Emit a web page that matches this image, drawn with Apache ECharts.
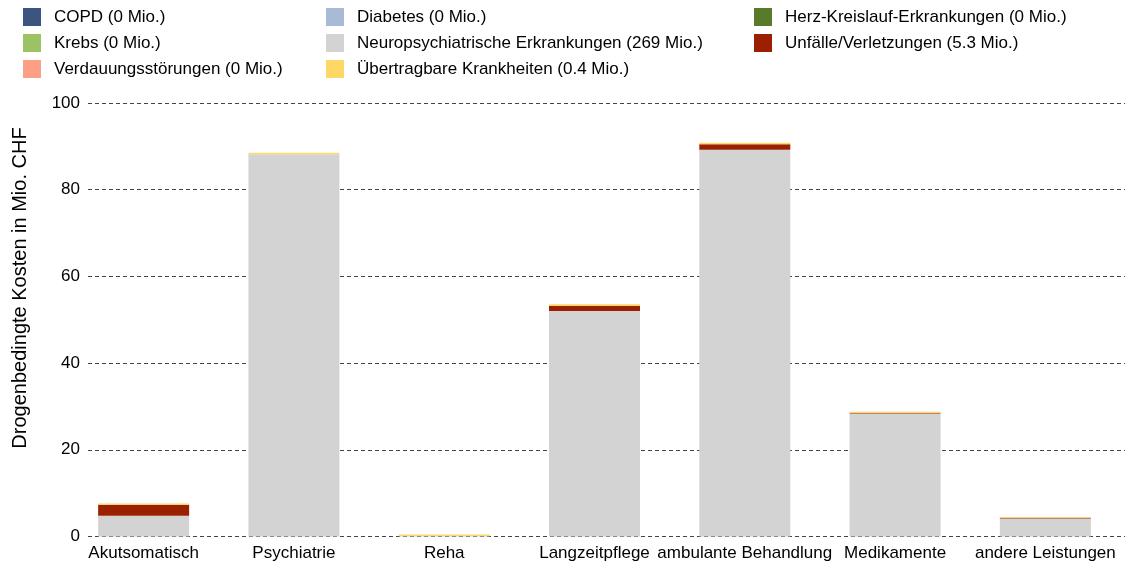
<!DOCTYPE html>
<html>
<head>
<meta charset="utf-8">
<title>Drogenbedingte Kosten</title>
<script src="https://cdn.jsdelivr.net/npm/echarts@6/dist/echarts.min.js"></script>
<style>
  html, body { margin: 0; padding: 0; background: #fff; }
  #chart { width: 1129px; height: 566px; }
</style>
</head>
<body>
<div id="chart"></div>
<script>
  // Kategorien (Leistungsbereiche)
  const categories = ['Akutsomatisch', 'Psychiatrie', 'Reha', 'Langzeitpflege', 'ambulante Behandlung', 'Medikamente', 'andere Leistungen']

  // Werte in Mio. CHF, aus dem Bild geschaetzt
  const copd = [0, 0, 0, 0, 0, 0, 0]
  const diabetes = [0, 0, 0, 0, 0, 0, 0]
  const herzKreislauf = [0, 0, 0, 0, 0, 0, 0]
  const krebs = [0, 0, 0, 0, 0, 0, 0]
  const neuro = [4.8, 88.2, 0.1, 52.0, 89.2, 28.4, 4.15]
  const unfaelle = [2.5, 0, 0, 1.2, 1.3, 0.1, 0.15]
  const verdauung = [0, 0, 0, 0, 0, 0, 0]
  const uebertragbar = [0.3, 0.35, 0.35, 0.35, 0.35, 0.3, 0.2]

  const yTicks = [0, 20, 40, 60, 80, 100]

  const seriesDefs = [
    {name: 'COPD (0 Mio.)', data: copd, color: '#3b5580'},
    {name: 'Diabetes (0 Mio.)', data: diabetes, color: '#a8bad6'},
    {name: 'Herz-Kreislauf-Erkrankungen (0 Mio.)', data: herzKreislauf, color: '#5a7a2b'},
    {name: 'Krebs (0 Mio.)', data: krebs, color: '#9cc266'},
    {name: 'Neuropsychiatrische Erkrankungen (269 Mio.)', data: neuro, color: '#d3d3d3'},
    {name: 'Unfälle/Verletzungen (5.3 Mio.)', data: unfaelle, color: '#9b2000'},
    {name: 'Verdauungsstörungen (0 Mio.)', data: verdauung, color: '#fd9f86'},
    {name: 'Übertragbare Krankheiten (0.4 Mio.)', data: uebertragbar, color: '#fdd866'}
  ]

  const font = "'Liberation Sans', Arial, sans-serif"
  const legendBase = {
    orient: 'vertical',
    top: 8,
    padding: 0,
    itemWidth: 18,
    itemHeight: 18,
    itemGap: 8,
    icon: 'rect',
    selectedMode: false,
    textStyle: {fontFamily: font, fontSize: 17, color: '#000', padding: [0, 0, 0, 8]}
  }

  const chart = echarts.init(document.getElementById('chart'))
  chart.setOption({
    animation: false,
    color: seriesDefs.map(s => s.color),
    legend: [
      Object.assign({}, legendBase, {left: 23, data: [seriesDefs[0].name, seriesDefs[3].name, seriesDefs[6].name]}),
      Object.assign({}, legendBase, {left: 326, data: [seriesDefs[1].name, seriesDefs[4].name, seriesDefs[7].name]}),
      Object.assign({}, legendBase, {left: 754, data: [seriesDefs[2].name, seriesDefs[5].name]})
    ],
    graphic: [{
      type: 'text',
      x: 20,
      y: 288,
      rotation: Math.PI / 2,
      style: {
        text: 'Drogenbedingte Kosten in Mio. CHF',
        fontFamily: font,
        fontSize: 20,
        fill: '#000',
        align: 'center',
        verticalAlign: 'middle'
      }
    }],
    grid: [
      // grid fuer y-Achse und Gitterlinien
      {left: 88, right: 4, top: 103, bottom: 29.5},
      // grid fuer die Balken
      {left: 68.5, right: 8.5, top: 103, bottom: 29.5}
    ],
    xAxis: [
      {gridIndex: 0, type: 'value', show: false},
      {
        gridIndex: 1,
        type: 'category',
        data: categories,
        axisTick: {show: false},
        axisLine: {show: false},
        axisLabel: {fontFamily: font, fontSize: 17, color: '#000', margin: 8, interval: 0}
      }
    ],
    yAxis: [
      {
        gridIndex: 0,
        type: 'value',
        min: yTicks[0],
        max: yTicks[yTicks.length - 1],
        interval: 20,
        axisLine: {show: false},
        axisTick: {show: false},
        axisLabel: {fontFamily: font, fontSize: 17, color: '#000', margin: 8},
        splitLine: {lineStyle: {color: '#444', type: [4, 3], width: 1}}
      },
      {gridIndex: 1, type: 'value', min: 0, max: 100, show: false, splitLine: {show: false}}
    ],
    series: seriesDefs.map(s => ({
      name: s.name,
      type: 'bar',
      stack: 'kosten',
      xAxisIndex: 1,
      yAxisIndex: 1,
      barWidth: 91,
      data: s.data,
      itemStyle: {color: s.color}
    }))
  })
</script>
</body>
</html>
